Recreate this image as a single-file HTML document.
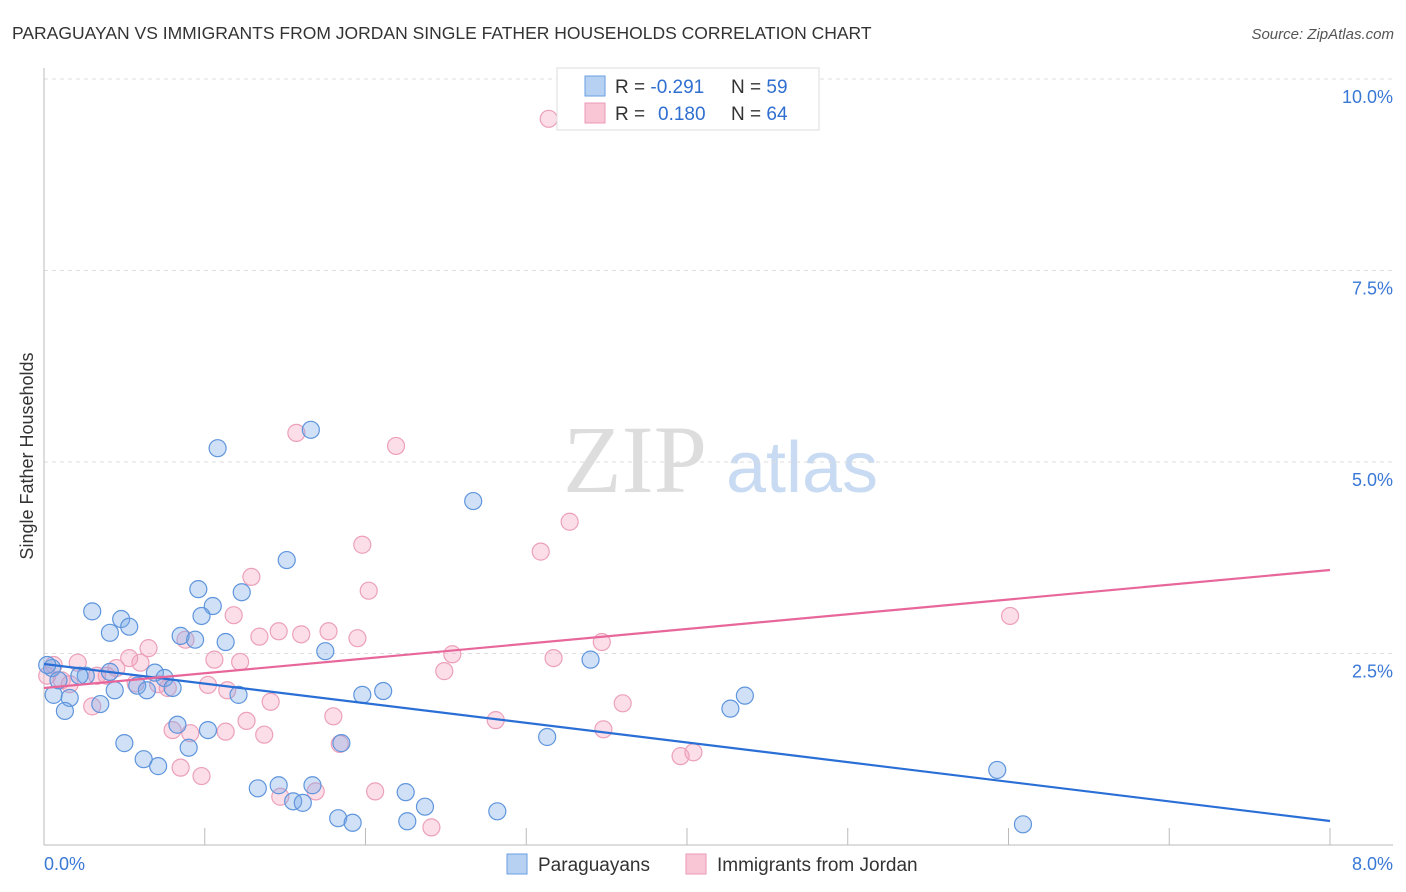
<!DOCTYPE html>
<html><head><meta charset="utf-8"><style>
body{margin:0;background:#fff;font-family:"Liberation Sans",sans-serif;}
#wrap{position:relative;width:1406px;height:892px;overflow:hidden}
</style></head><body>
<div id="wrap">
<svg id="svg" width="1406" height="892" xmlns="http://www.w3.org/2000/svg">
<text x="12" y="39" font-size="17.5" fill="#333">PARAGUAYAN VS IMMIGRANTS FROM JORDAN SINGLE FATHER HOUSEHOLDS CORRELATION CHART</text>
<text x="1394" y="39" font-size="15" fill="#555" font-style="italic" text-anchor="end">Source: ZipAtlas.com</text>
<text x="33" y="456" font-size="18" fill="#333" text-anchor="middle" transform="rotate(-90 33 456)">Single Father Households</text>
<g>
<text x="635" y="492" font-size="96" fill="#ddd" font-family="Liberation Serif,serif" text-anchor="middle">ZIP</text>
<text x="802" y="492" font-size="72" fill="#c8dbf2" text-anchor="middle">atlas</text>
</g>
<g id="grid"></g><g id="axes"></g><g id="pts"></g><g id="lines"></g>
<g>
<rect x="557" y="68" width="262" height="62" fill="#fff" stroke="#ddd"/>
<rect x="585" y="76" width="20" height="20" fill="#b7d1f3" stroke="#6a9ee0"/>
<rect x="585" y="103" width="20" height="20" fill="#f9c6d6" stroke="#ec9ab6"/>
<text x="615" y="93" font-size="19" fill="#333">R = <tspan fill="#2f6fd0">-0.291</tspan><tspan x="731">N = </tspan><tspan fill="#2f6fd0">59</tspan></text>
<text x="615" y="120" font-size="19" fill="#333">R = <tspan x="658" fill="#2f6fd0">0.180</tspan><tspan x="731">N = </tspan><tspan fill="#2f6fd0">64</tspan></text>
</g>
<g>
<rect x="507" y="854" width="20" height="20" fill="#b7d1f3" stroke="#6a9ee0"/>
<text x="538" y="871" font-size="19" fill="#333">Paraguayans</text>
<rect x="686" y="854" width="20" height="20" fill="#f9c6d6" stroke="#ec9ab6"/>
<text x="717" y="871" font-size="19" fill="#333">Immigrants from Jordan</text>
</g>
</svg>
</div>
<script>
const yTicks=[2.5,5.0,7.5,10.0];
const yTickLabels=["2.5%","5.0%","7.5%","10.0%"];
const xTicks=[0,1,2,3,4,5,6,7,8,9,10];
const blueX=[1.08,1.66,2.67,1.51,0.96,1.23,0.30,0.48,1.05,0.98,0.53,0.41,0.85,0.94,1.13,1.75,3.40,0.05,0.26,0.44,0.69,0.75,0.58,0.64,0.80,0.06,0.16,0.35,0.13,1.21,1.98,2.11,4.36,4.27,0.83,1.02,0.50,0.90,1.85,3.13,0.62,0.71,5.93,1.33,1.46,1.67,2.25,1.55,1.61,2.37,2.82,1.83,1.92,2.26,6.09,0.02,0.09,0.22,0.41];
const blueY=[5.18,5.42,4.49,3.72,3.34,3.30,3.05,2.95,3.12,2.99,2.85,2.77,2.73,2.68,2.65,2.53,2.42,2.31,2.21,2.02,2.25,2.18,2.08,2.02,2.05,1.96,1.92,1.84,1.75,1.96,1.96,2.01,1.95,1.78,1.57,1.50,1.33,1.27,1.33,1.41,1.12,1.03,0.98,0.74,0.78,0.78,0.69,0.57,0.55,0.50,0.44,0.35,0.29,0.31,0.27,2.35,2.15,2.21,2.26];
const pinkX=[3.14,1.57,2.19,3.27,3.09,1.98,1.29,2.02,1.18,0.65,0.88,1.46,1.60,1.77,1.95,1.34,6.01,3.47,2.54,3.17,1.06,1.22,0.60,0.53,0.45,0.21,0.06,2.49,0.33,0.39,1.02,1.14,0.71,0.77,1.41,0.30,3.60,1.80,1.26,2.81,3.48,0.80,0.91,1.13,1.37,1.84,3.96,4.04,0.85,0.98,1.47,1.69,2.06,2.41,0.02,0.11,0.16,0.57];
const pinkY=[9.48,5.38,5.21,4.22,3.83,3.92,3.50,3.32,3.00,2.57,2.68,2.79,2.75,2.79,2.70,2.72,2.99,2.65,2.49,2.44,2.42,2.39,2.38,2.44,2.31,2.38,2.35,2.27,2.21,2.21,2.09,2.02,2.10,2.05,1.87,1.81,1.85,1.68,1.62,1.63,1.51,1.50,1.46,1.48,1.44,1.32,1.16,1.21,1.01,0.90,0.63,0.70,0.70,0.23,2.21,2.15,2.10,2.11];
const blueLine=[2.363,0.313];
const pinkLine=[2.05,3.59];
const NS="http://www.w3.org/2000/svg";
const X=v=>44+v/8*1286, Y=v=>845-v/2.5*191.5;
function mk(t,a,p){const e=document.createElementNS(NS,t);for(const k in a)e.setAttribute(k,a[k]);p.appendChild(e);return e;}
const grid=document.getElementById('grid'),axes=document.getElementById('axes'),pts=document.getElementById('pts'),lines=document.getElementById('lines');
yTicks.forEach((t,i)=>{
 const l=mk('line',{x1:44,x2:1393,y1:Y(t),y2:Y(t),stroke:'#ddd','stroke-dasharray':'4,4'},grid);
 
 
 const tx=mk('text',{x:1393,y:Y(t)+24,'font-size':18,fill:'#3a78d6','text-anchor':'end'},grid);
 tx.textContent=yTickLabels[i];
 
 
});
const ya=mk('line',{x1:44,x2:44,y1:68,y2:845,stroke:'#bbb'},axes);


const xa=mk('line',{x1:44,x2:1393,y1:845,y2:845,stroke:'#bbb'},axes);


xTicks.filter(t=>t>0&&t<=8).forEach(t=>{
 const l=mk('line',{x1:X(t),x2:X(t),y1:828,y2:845,stroke:'#bbb'},axes);
 
 
});
[[0,'0.0%','start',44],[8,'8.0%','end',1393]].forEach(d=>{
 const tx=mk('text',{x:d[3],y:870,'font-size':18,fill:'#3a78d6','text-anchor':d[2]},axes);
 tx.textContent=d[1];
 
 
});
function dots(xs,ys,fill,stroke,name){xs.forEach((x,i)=>{
 const c=mk('circle',{cx:X(x),cy:Y(ys[i]),r:8.5,fill:fill,stroke:stroke,'stroke-width':1.2},pts);
 
 
});}
dots(pinkX,pinkY,'rgba(244,160,188,0.35)','#eca0ba','point-jordan');
dots(blueX,blueY,'rgba(120,170,232,0.35)','#5f95dc','point-paraguayan');
const bl=mk('line',{x1:X(0),y1:Y(blueLine[0]),x2:X(8),y2:Y(blueLine[1]),stroke:'#2a6fd6','stroke-width':2.2},lines);


const pl=mk('line',{x1:X(0),y1:Y(pinkLine[0]),x2:X(8),y2:Y(pinkLine[1]),stroke:'#e8679a','stroke-width':2.2},lines);


</script>
</body></html>
